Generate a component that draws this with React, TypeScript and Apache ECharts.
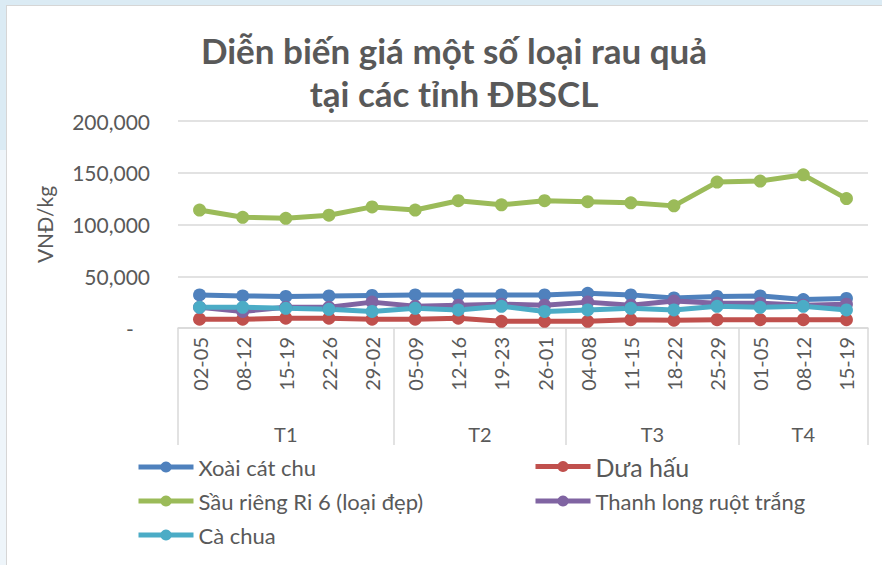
import React, { useEffect, useRef } from "react";
import * as echarts from "echarts";

const weeks = ["02-05", "08-12", "15-19", "22-26", "29-02", "05-09", "12-16", "19-23", "26-01", "04-08", "11-15", "18-22", "25-29", "01-05", "08-12", "15-19"];
const groups = ["T1", "T2", "T3", "T4"];
const groupSizes = [5, 4, 4, 3];

const xoaiCatChu = [32000, 31000, 30500, 31000, 31500, 32000, 32000, 32000, 32000, 33500, 32000, 29000, 30500, 31000, 27500, 28500];
const duaHau = [8500, 8500, 9500, 9500, 8500, 8500, 9500, 6500, 6500, 6500, 8000, 7500, 8000, 8000, 8000, 8000];
const sauRieng = [114000, 107000, 106000, 109000, 117000, 114000, 123000, 119000, 123000, 122000, 121000, 118000, 141000, 142000, 148000, 125000];
const thanhLong = [20000, 16000, 20000, 20000, 25000, 21000, 22000, 23000, 22000, 25000, 22000, 26000, 24000, 24000, 22000, 23000];
const caChua = [20000, 20000, 19000, 18000, 16000, 19000, 17500, 21000, 16000, 17500, 19000, 17500, 21000, 20000, 21000, 17500];

const seriesNames = ["Xoài cát chu", "Dưa hấu", "Sầu riêng Ri 6 (loại đẹp)", "Thanh long ruột trắng", "Cà chua"];
const seriesData = [xoaiCatChu, duaHau, sauRieng, thanhLong, caChua];
const seriesColors = ["#4f81bd", "#c0504d", "#9bbb59", "#8064a2", "#4bacc6"];

const FONT = "Lato";
const TXT = "#595959";
const GRID = "#d9d9d9";

export default function App() {
  const ref = useRef<HTMLDivElement>(null);
  useEffect(() => {
    document.body.style.margin = "0";
    if (!ref.current) return;
    const chart = echarts.init(ref.current, null, { renderer: "svg" });

    // group axis: half-category slots, boundaryGap false
    const slots = weeks.length * 2 + 1;
    const groupAxisData: string[] = new Array(slots).fill("");
    const tickSlots = new Set<number>();
    let start = 0;
    groups.forEach((g, i) => {
      const n = groupSizes[i];
      groupAxisData[2 * start + n] = g;
      tickSlots.add(2 * start);
      start += n;
    });
    tickSlots.add(2 * start);

    const legendCommon = {
      orient: "vertical",
      itemWidth: 55,
      itemHeight: 14,
      itemGap: 12,
      lineStyle: { width: 5 },
    };

    chart.setOption({
      animation: false,
      textStyle: { fontFamily: FONT },
      title: {
        text: "Diễn biến giá một số loại rau quả\ntại các tỉnh ĐBSCL",
        left: 449,
        top: 23,
        textAlign: "center",
        textStyle: { fontFamily: FONT, fontSize: 35, fontWeight: "bold", color: TXT, lineHeight: 43 },
      },
      grid: { left: 178, right: 14, top: 121, bottom: 237, containLabel: false },
      legend: [
        {
          ...legendCommon,
          data: [seriesNames[0], seriesNames[2], seriesNames[4]],
          left: 131,
          top: 451,
          textStyle: { fontFamily: FONT, fontSize: 22, color: TXT },
        },
        {
          ...legendCommon,
          data: [seriesNames[1], seriesNames[3]],
          left: 528,
          top: 449,
          itemGap: 11,
          formatter: (name: string) => (name === "Dưa hấu" ? "{big|" + name + "}" : name),
          textStyle: {
            fontFamily: FONT,
            fontSize: 22,
            color: TXT,
            rich: { big: { fontFamily: FONT, fontSize: 25, color: TXT } },
          },
        },
      ],
      xAxis: [
        {
          type: "category",
          data: weeks,
          boundaryGap: true,
          position: "bottom",
          axisLine: { show: true, lineStyle: { color: GRID, width: 1.5 } },
          axisTick: { show: false },
          axisLabel: { rotate: 90, interval: 0, fontFamily: FONT, fontSize: 20, color: TXT, margin: 9 },
        },
        {
          type: "category",
          data: groupAxisData,
          boundaryGap: false,
          position: "bottom",
          axisLine: { show: false },
          axisTick: {
            show: true,
            inside: false,
            length: 117,
            interval: (index: number) => tickSlots.has(index),
            lineStyle: { color: GRID, width: 1.5 },
          },
          axisLabel: { interval: 0, fontFamily: FONT, fontSize: 20, color: TXT, margin: 96 },
          splitLine: { show: false },
        },
      ],
      yAxis: {
        type: "value",
        min: 0,
        max: 200000,
        interval: 50000,
        name: "VNĐ/kg",
        nameLocation: "middle",
        nameGap: 123,
        nameRotate: 90,
        nameTextStyle: { fontFamily: FONT, fontSize: 21, color: TXT },
        axisLine: { show: false },
        axisTick: { show: false },
        splitLine: { lineStyle: { color: GRID, width: 1.5 } },
        axisLabel: {
          fontFamily: FONT,
          fontSize: 21,
          color: TXT,
          margin: 28,
          formatter: (v: number) => (v === 0 ? "-   " : v.toLocaleString("en-US")),
        },
      },
      series: seriesNames.map((name, i) => ({
        name,
        type: "line",
        xAxisIndex: 0,
        data: seriesData[i],
        symbol: "circle",
        symbolSize: 13,
        color: seriesColors[i],
        lineStyle: { width: 5, color: seriesColors[i] },
        itemStyle: { color: seriesColors[i] },
      })),
    });
    return () => chart.dispose();
  }, []);

  return (
    <div style={{ position: "relative", width: 882, height: 565, background: "#dbebf4", overflow: "hidden" }}>
      <div style={{ position: "absolute", left: 0, top: 150, width: 6, height: 415, background: "#eef5fa" }} />
      <div
        style={{
          position: "absolute",
          left: 6,
          top: 5,
          width: 876,
          height: 560,
          background: "#ffffff",
          borderLeft: "1px solid #d6d6d6",
          borderTop: "1px solid #d6d6d6",
          boxSizing: "border-box",
        }}
      />
      <div ref={ref} style={{ position: "absolute", left: 0, top: 0, width: 882, height: 565 }} />
    </div>
  );
}
